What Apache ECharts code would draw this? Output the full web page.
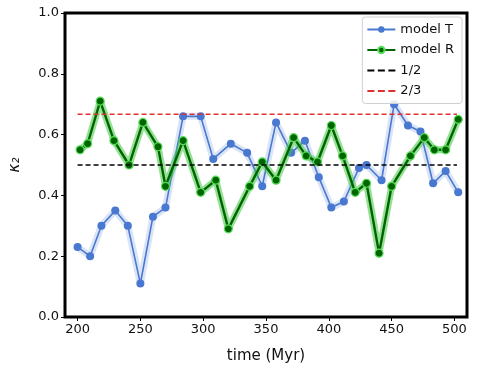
<!DOCTYPE html>
<html>
<head>
<meta charset="utf-8">
<script src="https://cdn.jsdelivr.net/npm/echarts@6/dist/echarts.min.js"></script>
<style>
  html, body { margin: 0; padding: 0; background: #fff; }
  #main { width: 479px; height: 369px; }
</style>
</head>
<body>
<div id="main"></div>
<script>
// model T
const timeT = [200, 210, 219, 230, 240, 250, 260, 270, 284, 298, 308, 322, 335, 347, 358,
               370, 381, 392, 402, 412, 424, 430, 442, 452, 463, 473, 483, 493, 503]
const kappaT = [0.23, 0.20, 0.30, 0.35, 0.30, 0.11, 0.33, 0.36, 0.66, 0.66, 0.52, 0.57, 0.54, 0.43, 0.64,
                0.54, 0.58, 0.46, 0.36, 0.38, 0.49, 0.50, 0.45, 0.70, 0.63, 0.61, 0.44, 0.48, 0.41]
// model R
const timeR = [202, 208, 218, 229, 241, 252, 264, 270, 284, 298, 310, 320, 337, 347, 358,
               372, 382, 391, 402, 411, 421, 430, 440, 450, 465, 476, 484, 493, 503]
const kappaR = [0.55, 0.57, 0.71, 0.58, 0.50, 0.64, 0.56, 0.43, 0.58, 0.41, 0.45, 0.29, 0.43, 0.51, 0.45,
                0.59, 0.53, 0.51, 0.63, 0.53, 0.41, 0.44, 0.21, 0.43, 0.53, 0.59, 0.55, 0.55, 0.65]
// reference lines
const refSpan = [200, 502]
const half = 0.5
const twoThirds = 2 / 3
const xTicks = [200, 250, 300, 350, 400, 450, 500]

const pairs = (xs, ys) => xs.map((x, i) => [x, ys[i]])
const flat = (v) => refSpan.map(x => [x, v])

const blue = "#4878d0"
const dark = "#006400"
const font = "DejaVu Sans"
// three dashes, used as legend icon for the axhlines
const dashIcon = "path://M0,0H7V2H0Z M10.5,0H17.5V2H10.5Z M21,0H28V2H21Z"

let chart = echarts.init(document.getElementById("main"))
chart.setOption({
  animation: false,
  textStyle: { fontFamily: font },
  grid: {
    left: 61, right: 12, top: 13, bottom: 51,
    show: true,
    borderColor: "#000",
    borderWidth: 3,
    z: 10
  },
  legend: {
    orient: "vertical",
    right: 17,
    top: 17,
    itemWidth: 28,
    itemHeight: 8,
    itemGap: 7.5,
    padding: [6, 8, 6, 4],
    borderColor: "#d0d0d0",
    borderWidth: 1,
    borderRadius: 3,
    backgroundColor: "rgba(255,255,255,0.85)",
    textStyle: { fontSize: 13, color: "#111", fontFamily: font },
    data: [
      "model T",
      "model R",
      { name: "1/2", icon: dashIcon, itemStyle: { color: "#000" } },
      { name: "2/3", icon: dashIcon, itemStyle: { color: "#e03030" } }
    ]
  },
  xAxis: {
    type: "value",
    min: 190,
    max: 510,
    name: "time (Myr)",
    nameLocation: "middle",
    nameGap: 32,
    nameTextStyle: { fontSize: 15, color: "#111" },
    splitLine: { show: false },
    axisLine: { show: false },
    axisTick: { customValues: xTicks, length: 4, lineStyle: { color: "#000", width: 1 } },
    axisLabel: { customValues: xTicks, fontSize: 13, color: "#111", margin: 6 }
  },
  yAxis: {
    type: "value",
    min: 0,
    max: 1,
    interval: 0.2,
    name: "κ₂",
    nameLocation: "middle",
    nameGap: 42,
    nameRotate: 90,
    nameTextStyle: { fontSize: 15, color: "#111", fontStyle: "italic" },
    splitLine: { show: false },
    axisLine: { show: false },
    axisTick: { show: true, length: 4, lineStyle: { color: "#000", width: 1 } },
    axisLabel: { fontSize: 13, color: "#111", margin: 6, formatter: v => v.toFixed(1) }
  },
  series: [
    {   // shaded band model T
      type: "line", silent: true, symbol: "none", z: 1,
      data: pairs(timeT, kappaT),
      lineStyle: { color: "rgba(72,120,208,0.2)", width: 7 }
    },
    {
      name: "model T", type: "line", z: 2,
      data: pairs(timeT, kappaT),
      symbol: "circle", symbolSize: 8,
      itemStyle: { color: blue },
      lineStyle: { color: blue, width: 1.6 }
    },
    {   // shaded band model R
      type: "line", silent: true, symbol: "none", z: 3,
      data: pairs(timeR, kappaR),
      lineStyle: { color: "rgba(60,200,60,0.55)", width: 7 }
    },
    {
      name: "model R", type: "line", z: 4,
      data: pairs(timeR, kappaR),
      symbol: "circle", symbolSize: 8,
      itemStyle: { color: dark, borderColor: "#55dd55", borderWidth: 1.2 },
      lineStyle: { color: dark, width: 2.4 }
    },
    {
      name: "1/2", type: "line", z: 5, symbol: "none",
      data: flat(half),
      itemStyle: { color: "#000" },
      lineStyle: { color: "#000", width: 1.5, type: [5, 3] }
    },
    {
      name: "2/3", type: "line", z: 5, symbol: "none",
      data: flat(twoThirds),
      itemStyle: { color: "#e03030" },
      lineStyle: { color: "#e03030", width: 1.5, type: [5, 3] }
    }
  ]
})
</script>
</body>
</html>
